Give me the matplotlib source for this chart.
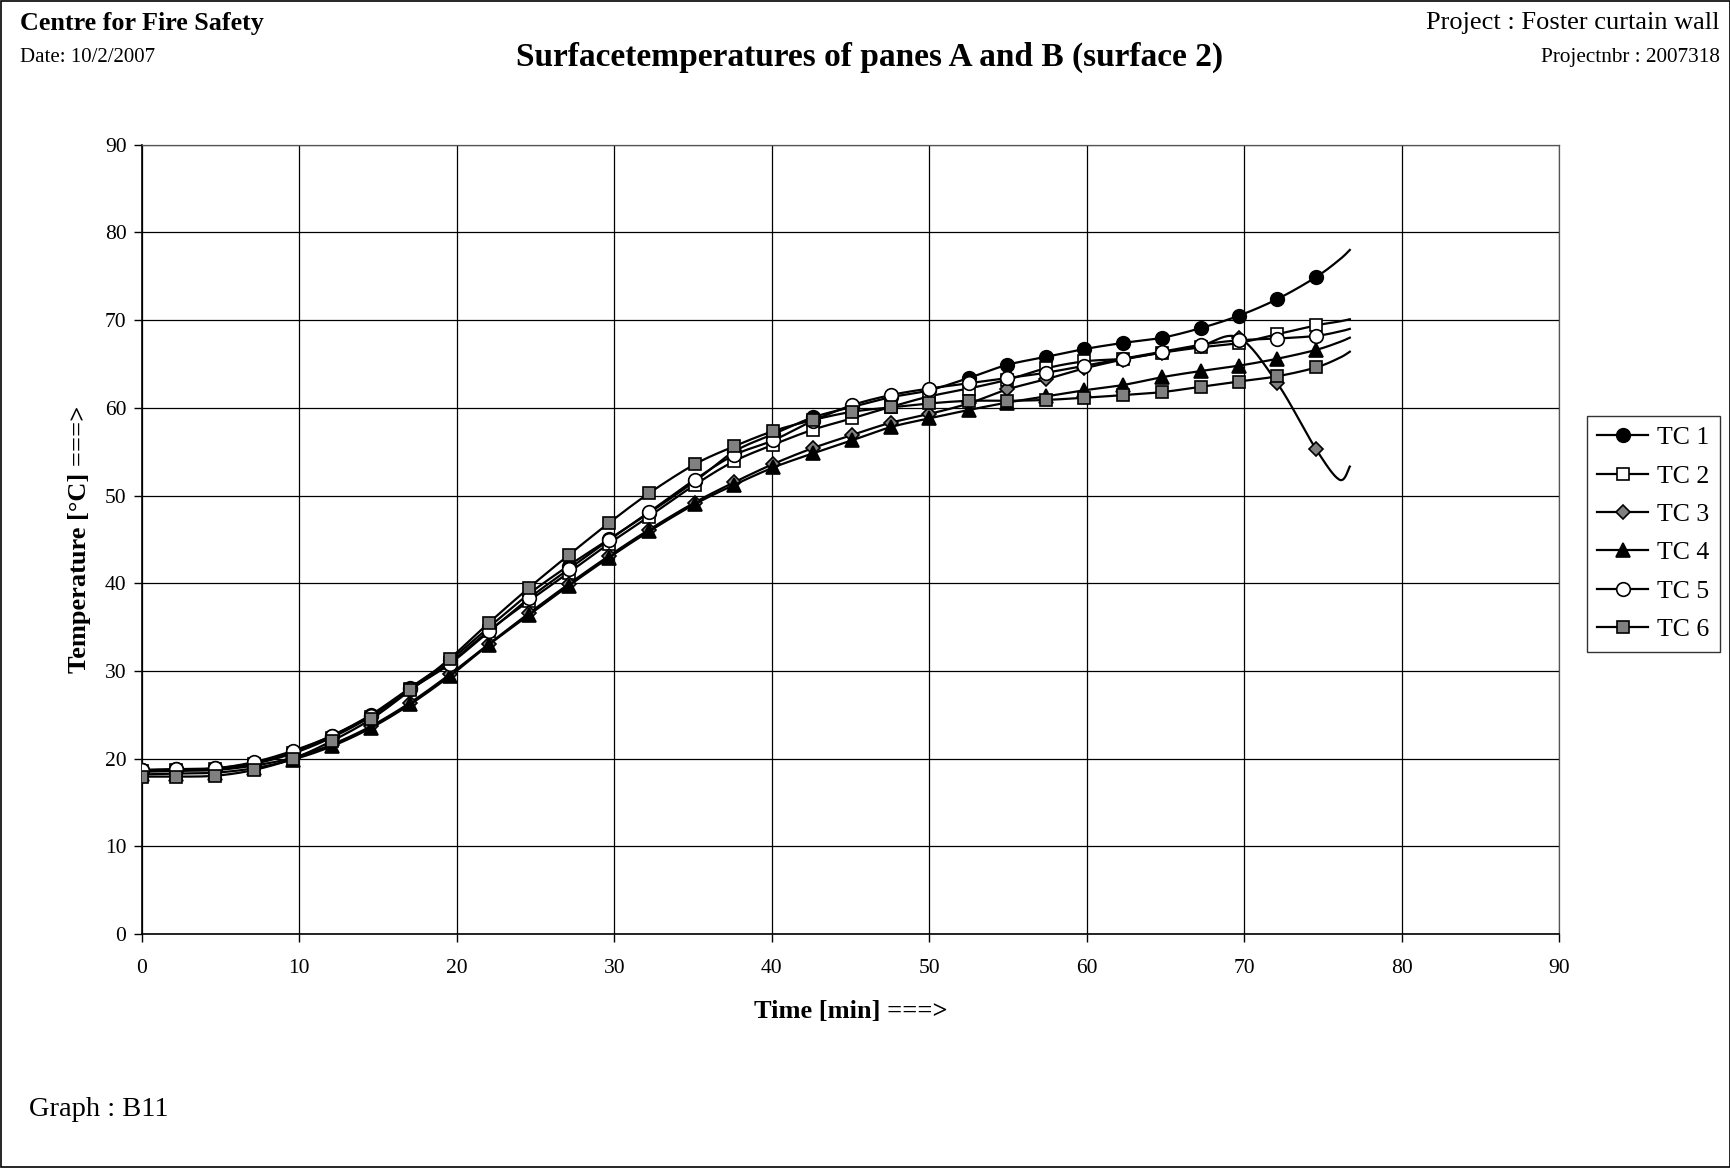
import numpy as np
import matplotlib
matplotlib.use("Agg")
import matplotlib.pyplot as plt
from matplotlib.lines import Line2D

plt.rcParams['font.family'] = ['Liberation Serif', 'DejaVu Serif']

# time of each reading (min); the last two readings have no marker in the original
time_min = [0, 2.2, 4.65, 7.1, 9.6, 12.05, 14.55, 17.05, 19.55, 22.05, 24.6, 27.1,
            29.65, 32.2, 35.1, 37.6, 40.1, 42.6, 45.1, 47.55, 50.0, 52.5, 54.95,
            57.4, 59.85, 62.3, 64.8, 67.25, 69.65, 72.1, 74.55, 76.05, 76.7]

tc1 = [18.7, 18.8, 18.9, 19.5, 20.8, 22.6, 25.0, 28.1, 31.2, 35.0, 38.8, 42.0,
       45.0, 48.0, 51.6, 55.0, 57.0, 58.9, 60.1, 61.2, 62.0, 63.4, 64.9,
       65.8, 66.7, 67.4, 68.0, 69.1, 70.5, 72.4, 74.9, 76.9, 78.0]
tc2 = [18.6, 18.7, 18.8, 19.4, 20.6, 22.4, 24.8, 27.9, 30.9, 34.6, 38.0, 41.2,
       44.5, 47.6, 51.2, 53.9, 55.8, 57.5, 58.8, 60.1, 61.3, 62.2, 63.2,
       64.5, 65.3, 65.6, 66.3, 66.9, 67.4, 68.4, 69.4, 69.85, 70.1]
tc3 = [18.5, 18.6, 18.7, 19.2, 20.1, 21.6, 23.7, 26.4, 29.6, 33.1, 36.6, 39.9,
       43.1, 46.1, 49.2, 51.5, 53.6, 55.4, 56.9, 58.3, 59.3, 60.5, 62.1,
       63.25, 64.5, 65.5, 66.3, 67.1, 68.0, 62.8, 55.3, 51.8, 53.3]
tc4 = [18.2, 18.3, 18.4, 18.9, 19.9, 21.4, 23.5, 26.2, 29.4, 33.0, 36.4, 39.7,
       42.9, 45.9, 49.0, 51.2, 53.2, 54.8, 56.3, 57.8, 58.8, 59.75, 60.6,
       61.3, 62.0, 62.6, 63.5, 64.2, 64.8, 65.6, 66.6, 67.5, 68.0]
tc5 = [18.7, 18.8, 18.9, 19.6, 20.9, 22.6, 24.9, 27.9, 30.8, 34.5, 38.3, 41.6,
       44.9, 48.1, 51.8, 54.6, 56.3, 58.5, 60.3, 61.45, 62.2, 62.8, 63.4,
       64.0, 64.8, 65.6, 66.4, 67.2, 67.7, 67.9, 68.2, 68.7, 69.0]
tc6 = [17.95, 17.95, 18.05, 18.7, 20.0, 22.0, 24.5, 27.8, 31.4, 35.5, 39.5, 43.2,
       46.85, 50.25, 53.55, 55.6, 57.35, 58.6, 59.55, 60.05, 60.5, 60.8, 60.8,
       60.9, 61.15, 61.45, 61.8, 62.4, 63.0, 63.6, 64.6, 65.7, 66.4]

labels = ['TC 1', 'TC 2', 'TC 3', 'TC 4', 'TC 5', 'TC 6']
series = [tc1, tc2, tc3, tc4, tc5, tc6]
styles = [('o', 'black', 9.8), ('s', 'white', 8.8), ('D', '#808080', 6.8),
          ('^', 'black', 9.8), ('o', 'white', 9.8), ('s', '#808080', 8.8)]


def smooth(x, y, n=20):
    # Excel-like smoothed line: Catmull-Rom bezier through the points
    x = np.asarray(x, float)
    y = np.asarray(y, float)
    px = np.concatenate([[x[0]], x, [x[-1]]])
    py = np.concatenate([[y[0]], y, [y[-1]]])
    xs, ys = [], []
    s = np.linspace(0, 1, n)
    for i in range(1, len(px) - 2):
        p0 = np.array([px[i], py[i]])
        p3 = np.array([px[i + 1], py[i + 1]])
        p1 = p0 + (np.array([px[i + 1], py[i + 1]]) - np.array([px[i - 1], py[i - 1]])) / 6
        p2 = p3 - (np.array([px[i + 2], py[i + 2]]) - np.array([px[i], py[i]])) / 6
        b = ((1 - s) ** 3)[:, None] * p0 + (3 * (1 - s) ** 2 * s)[:, None] * p1 \
            + (3 * (1 - s) * s ** 2)[:, None] * p2 + (s ** 3)[:, None] * p3
        xs.extend(b[:, 0])
        ys.extend(b[:, 1])
    return xs, ys


fig = plt.figure(figsize=(17.31, 11.68), dpi=100)
ax = fig.add_axes([0.0819, 0.2003, 0.8189, 0.6758])

handles = []
for k, (vals, lab, (mk, fc, ms)) in enumerate(zip(series, labels, styles)):
    sx, sy = smooth(time_min, vals)
    ax.plot(sx, sy, color='black', lw=1.6, zorder=3 + k)
    ax.plot(time_min[:-2], vals[:-2], ls='none', marker=mk, ms=ms, mfc=fc,
            mec='black', mew=1.2, zorder=3 + k)
    handles.append(Line2D([], [], color='black', lw=1.6, marker=mk, ms=ms,
                          mfc=fc, mec='black', mew=1.2, label=lab))

ax.set_xlim(0, 90)
ax.set_ylim(0, 90)
ax.set_xticks(range(0, 91, 10))
ax.set_yticks(range(0, 91, 10))
ax.grid(True, color='black', lw=0.9)
ax.set_axisbelow(True)
for side in ['top', 'right']:
    ax.spines[side].set_color('#555555')
    ax.spines[side].set_linewidth(0.9)
for side in ['left', 'bottom']:
    ax.spines[side].set_linewidth(1.2)
ax.tick_params(direction='out', length=6, width=1, labelsize=15.5)
ax.tick_params(axis='x', pad=12)
ax.tick_params(axis='y', pad=5)
ax.set_xlabel('Time [min] ===>', fontsize=19, fontweight='bold', labelpad=16)
ax.set_ylabel('Temperature [°C] ===>', fontsize=19, fontweight='bold', labelpad=10)

leg = fig.legend(handles=handles, loc='center right', bbox_to_anchor=(0.9936, 0.543),
                 fontsize=18.5, frameon=True, fancybox=False, edgecolor='black',
                 handlelength=2.0, labelspacing=0.6, borderpad=0.4, handletextpad=0.35,
                 borderaxespad=0)
leg.get_frame().set_linewidth(1)

# header / footer texts
fig.text(0.0115, 0.980, 'Centre for Fire Safety', fontsize=18.8, fontweight='bold', va='center')
fig.text(0.0115, 0.951, 'Date: 10/2/2007', fontsize=15, va='center')
fig.text(0.5026, 0.951, 'Surfacetemperatures of panes A and B (surface 2)', fontsize=24,
         fontweight='bold', ha='center', va='center')
fig.text(0.9936, 0.980, 'Project : Foster curtain wall', fontsize=19, ha='right', va='center')
fig.text(0.9936, 0.951, 'Projectnbr : 2007318', fontsize=15.3, ha='right', va='center')
fig.text(0.0167, 0.050, 'Graph : B11', fontsize=20.5, va='center')

fig.patches.append(plt.Rectangle((0.0006, 0.0009), 0.9988, 0.9982, transform=fig.transFigure,
                                 fill=False, edgecolor='black', lw=1.2))

fig.savefig('out.png', dpi=100)
